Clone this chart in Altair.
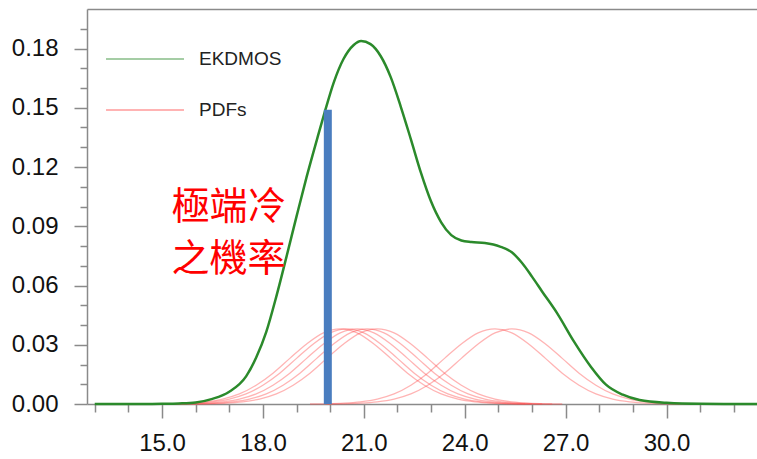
import altair as alt
import pandas as pd

# ---- EKDMOS curve ----
ekdmos_x = [13.0, 14.5, 15.0, 15.5, 16.0, 16.5, 17.0, 17.5, 17.8, 18.1, 18.4, 18.7, 19.0,
            19.3, 19.6, 19.85, 20.1, 20.4, 20.7, 20.92, 21.2, 21.5, 21.8, 22.1, 22.4, 22.7,
            23.0, 23.3, 23.6, 23.9, 24.2, 24.6, 25.05, 25.4, 25.7, 26.0, 26.3, 26.75, 27.25,
            27.75, 28.2, 28.7, 29.2, 30.0, 31.0, 32.7]
ekdmos_y = [0.0, 0.0, 0.0001, 0.0003, 0.0008, 0.0026, 0.0062, 0.0140, 0.0235, 0.0365, 0.0545,
            0.0745, 0.0950, 0.1150, 0.1335, 0.1485, 0.1625, 0.1748, 0.1818, 0.1838, 0.1822,
            0.1762, 0.1655, 0.1505, 0.1340, 0.1170, 0.1025, 0.0920, 0.0855, 0.0828, 0.0820,
            0.0815, 0.0797, 0.0768, 0.0715, 0.0645, 0.0570, 0.0459, 0.0316, 0.0189, 0.0098,
            0.0047, 0.0020, 0.0006, 0.0001, 0.0]

# ---- individual member PDFs ----
pdf_m1_x = [14.8, 15.3, 15.8, 16.3, 16.8, 17.3, 17.8, 18.3, 18.8, 19.3, 19.8, 20.3, 20.8, 21.3,
            21.8, 22.3, 22.8, 23.3, 23.8, 24.3, 24.8, 25.3, 25.8]
pdf_m2_x = [15.0, 15.5, 16.0, 16.5, 17.0, 17.5, 18.0, 18.5, 19.0, 19.5, 20.0, 20.5, 21.0, 21.5,
            22.0, 22.5, 23.0, 23.5, 24.0, 24.5, 25.0, 25.5, 26.0]
pdf_m3_x = [15.3, 15.8, 16.3, 16.8, 17.3, 17.8, 18.3, 18.8, 19.3, 19.8, 20.3, 20.8, 21.3, 21.8,
            22.3, 22.8, 23.3, 23.8, 24.3, 24.8, 25.3, 25.8, 26.3]
pdf_m4_x = [15.6, 16.1, 16.6, 17.1, 17.6, 18.1, 18.6, 19.1, 19.6, 20.1, 20.6, 21.1, 21.6, 22.1,
            22.6, 23.1, 23.6, 24.1, 24.6, 25.1, 25.6, 26.1, 26.6]
pdf_m5_x = [15.9, 16.4, 16.9, 17.4, 17.9, 18.4, 18.9, 19.4, 19.9, 20.4, 20.9, 21.4, 21.9, 22.4,
            22.9, 23.4, 23.9, 24.4, 24.9, 25.4, 25.9, 26.4, 26.9]
pdf_m6_x = [19.4, 19.9, 20.4, 20.9, 21.4, 21.9, 22.4, 22.9, 23.4, 23.9, 24.4, 24.9, 25.4, 25.9,
            26.4, 26.9, 27.4, 27.9, 28.4, 28.9, 29.4, 29.9, 30.4]
pdf_m7_x = [19.9, 20.4, 20.9, 21.4, 21.9, 22.4, 22.9, 23.4, 23.9, 24.4, 24.9, 25.4, 25.9, 26.4,
            26.9, 27.4, 27.9, 28.4, 28.9, 29.4, 29.9, 30.4, 30.9]
pdf_member_y = [0.0, 0.0001, 0.0004, 0.0011, 0.0025, 0.0051, 0.0095, 0.0156, 0.0231, 0.0304,
                0.0360, 0.0380, 0.0360, 0.0304, 0.0231, 0.0156, 0.0095, 0.0051, 0.0025, 0.0011,
                0.0004, 0.0001, 0.0]

# ---- extreme-cold probability bar ----
bar_x = [19.93]
bar_y = [0.149]

# ---- annotation ----
note_lines = ["極端冷", "之機率"]
note_x = [16.98, 16.98]
note_y = [0.0992, 0.0729]

# ---- legend / ticks ----
series_names = ["EKDMOS", "PDFs"]
series_colors = ["#2b8a2b", "#ff4d4d"]
x_tick_values = [13, 14, 15, 16, 17, 18, 19, 20, 21, 22, 23, 24, 25, 26, 27, 28, 29, 30, 31, 32]
y_tick_values = [0.00, 0.01, 0.02, 0.03, 0.04, 0.05, 0.06, 0.07, 0.08, 0.09, 0.10,
                 0.11, 0.12, 0.13, 0.14, 0.15, 0.16, 0.17, 0.18, 0.19]

ek_df = pd.DataFrame({"x": ekdmos_x, "y": ekdmos_y, "series": "EKDMOS", "member": "ek"})
rows = []
for i, xs in enumerate([pdf_m1_x, pdf_m2_x, pdf_m3_x, pdf_m4_x, pdf_m5_x, pdf_m6_x, pdf_m7_x]):
    for xv, yv in zip(xs, pdf_member_y):
        rows.append({"x": xv, "y": yv, "series": "PDFs", "member": f"m{i+1}"})
pdf_df = pd.DataFrame(rows)
bar_df = pd.DataFrame({"x": bar_x, "y": bar_y})
note_df = pd.DataFrame({"x": note_x, "y": note_y, "t": note_lines})

GREY = "#8a8a8a"
FONT = "Liberation Sans"

x_scale = alt.Scale(domain=[12.77, 32.69], nice=False, zero=False)
y_scale = alt.Scale(domain=[0, 0.2], nice=False, zero=True)

x_axis = alt.Axis(
    values=x_tick_values,
    labelExpr="datum.value % 3 == 0 ? format(datum.value, '.1f') : ''",
    tickSize={"condition": {"test": "datum.value % 3 == 0", "value": 14}, "value": 8},
    labelFontSize=24, labelFont=FONT, labelColor="#111111", labelPadding=13,
    labelOverlap=False, labelFlush=False,
    domainColor=GREY, domainWidth=1.5, tickColor=GREY, tickWidth=1.5,
    grid=False, title=None,
)
y_axis = alt.Axis(
    values=y_tick_values,
    labelExpr="round(datum.value*100) % 3 == 0 ? format(datum.value, '.2f') : ''",
    tickSize={"condition": {"test": "round(datum.value*100) % 3 == 0", "value": 13}, "value": 7},
    labelFontSize=24, labelFont=FONT, labelColor="#111111", labelPadding=16,
    labelOverlap=False, labelFlush=False,
    domainColor=GREY, domainWidth=1.5, tickColor=GREY, tickWidth=1.5,
    grid=False, title=None,
)
top_axis = alt.Axis(orient="top", labels=False, ticks=False, domain=True,
                    domainColor=GREY, domainWidth=1.5, grid=False, title=None)

legend = alt.Legend(
    orient="none", legendX=47, legendY=39, title=None,
    symbolType="M-4,0H4", symbolSize=380, symbolStrokeWidth=2,
    labelFontSize=19, labelFont=FONT, labelColor="#222222", labelOffset=43,
    rowPadding=30, padding=0,
)
color_enc = alt.Color("series:N", scale=alt.Scale(domain=series_names, range=series_colors),
                      legend=legend)

pdfs = alt.Chart(pdf_df).mark_line(strokeWidth=1.3, opacity=0.42, interpolate="monotone").encode(
    x=alt.X("x:Q", scale=x_scale, axis=x_axis),
    y=alt.Y("y:Q", scale=y_scale, axis=y_axis),
    color=color_enc,
    detail="member:N",
)
ek = alt.Chart(ek_df).mark_line(strokeWidth=2.5, interpolate="monotone").encode(
    x=alt.X("x:Q", scale=x_scale, axis=None),
    y=alt.Y("y:Q", scale=y_scale, axis=y_axis),
    color=color_enc,
)
bar = alt.Chart(bar_df).mark_rule(strokeWidth=8, color="#4a7dbf", strokeCap="butt").encode(
    x=alt.X("x:Q", scale=x_scale, axis=None),
    y=alt.Y("y:Q", scale=y_scale, axis=y_axis),
    y2=alt.datum(0),
)
note = alt.Chart(note_df).mark_text(
    font="Noto Sans CJK TC", fontSize=38, color="#ff0000", align="center", baseline="middle"
).encode(
    x=alt.X("x:Q", scale=x_scale, axis=None),
    y=alt.Y("y:Q", scale=y_scale, axis=y_axis),
    text="t:N",
)
frame_top = alt.Chart(bar_df).mark_point(opacity=0).encode(
    x=alt.X("x:Q", scale=x_scale, axis=top_axis),
    y=alt.Y("y:Q", scale=y_scale, axis=y_axis),
)

chart = alt.layer(pdfs, ek, bar, note, frame_top).resolve_axis(x="independent").properties(
    width=670, height=395,
    padding={"left": 87, "top": 9, "right": 0, "bottom": 55},
    autosize=alt.AutoSizeParams(type="none"),
    background="white",
).configure_view(stroke=None)

chart.save("out.html", embed_options={"renderer": "svg", "actions": False})
